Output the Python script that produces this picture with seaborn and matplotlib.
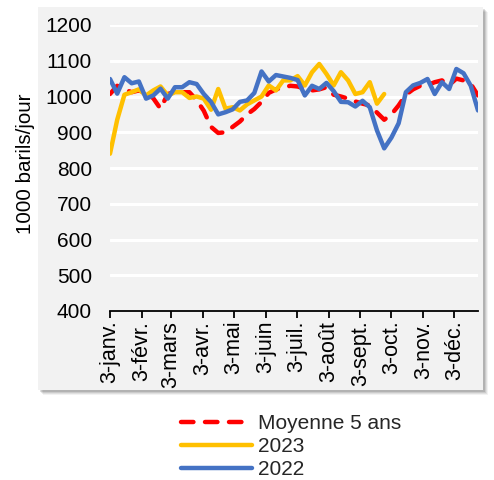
import numpy as np
import pandas as pd
import matplotlib
matplotlib.use("Agg")
import matplotlib.pyplot as plt
import matplotlib.dates as mdates
from matplotlib.patches import Rectangle
import seaborn as sns

# ---- data ----
start_date = "2022-01-03"
n_weeks = 52
moyenne_5_ans = [1007, 1030, 1020, 1012, 1017, 1010, 995, 966, 1007, 1012,
                 1012, 1012, 990, 960, 915, 898, 900, 915, 930, 950,
                 965, 985, 1010, 1020, 1025, 1030, 1028, 1022, 1017, 1020,
                 1026, 1005, 1000, 994, 986, 980, 975, 955, 935, 950,
                 975, 1005, 1020, 1030, 1032, 1040, 1045, 1032, 1050, 1045,
                 1035, 1003]
y2023 = [840, 935, 1005, 1012, 1020, 1003, 1017, 1028, 1003, 1012,
         1012, 996, 1000, 994, 963, 1021, 966, 970, 961, 978,
         989, 1000, 1031, 1017, 1045, 1045, 1057, 1031, 1068, 1091,
         1063, 1031, 1068, 1045, 1007, 1012, 1040, 980, 1007]
y2022 = [1049, 1008, 1054, 1037, 1042, 994, 1003, 1022, 994, 1026,
         1026, 1040, 1035, 1007, 985, 950, 956, 964, 985, 989,
         1010, 1070, 1042, 1060, 1056, 1052, 1046, 1003, 1030, 1021,
         1038, 1015, 985, 984, 972, 988, 970, 905, 855, 885,
         925, 1012, 1031, 1038, 1049, 1007, 1040, 1021, 1077, 1065,
         1030, 961]
tick_dates = ["2022-01-03", "2022-02-03", "2022-03-03", "2022-04-03", "2022-05-03",
              "2022-06-03", "2022-07-03", "2022-08-03", "2022-09-03", "2022-10-03",
              "2022-11-03", "2022-12-03"]
tick_labels = ["3-janv.", "3-févr.", "3-mars", "3-avr.", "3-mai", "3-juin",
               "3-juil.", "3-août", "3-sept.", "3-oct.", "3-nov.", "3-déc."]
series_names = ["Moyenne 5 ans", "2023", "2022"]
series_colors = ["#FF0000", "#FFC000", "#4472C4"]
y_label = "1000 barils/jour"

dates = pd.date_range(start_date, periods=n_weeks, freq="7D")

sns.set_theme(style="white")
plt.rcParams["font.family"] = ["Liberation Sans", "DejaVu Sans"]
FS = 15

fig = plt.figure(figsize=(4.94, 4.80), dpi=100, facecolor="white")

# gray panel with soft shadow
W, H = 494, 480
px0, py0, px1, py1 = 38, 7, 483, 390
for k, a in enumerate([0.05, 0.07, 0.09, 0.12]):
    off = 5 - k
    fig.patches.append(Rectangle(((px0 + off) / W, 1 - (py1 + off) / H),
                                 (px1 - px0) / W, (py1 - py0) / H,
                                 transform=fig.transFigure, facecolor="black",
                                 alpha=a, edgecolor="none", zorder=-3))
fig.patches.append(Rectangle((px0 / W, 1 - py1 / H), (px1 - px0) / W, (py1 - py0) / H,
                             transform=fig.transFigure, facecolor="#F2F2F2",
                             edgecolor="none", zorder=-2))

ax = fig.add_axes([110 / W, 1 - 311 / H, (478 - 110) / W, (311 - 25) / H])
ax.set_facecolor("none")
ax.patch.set_visible(False)

df = pd.concat([
    pd.DataFrame({"date": dates, "val": moyenne_5_ans, "serie": series_names[0]}),
    pd.DataFrame({"date": dates[:len(y2023)], "val": y2023, "serie": series_names[1]}),
    pd.DataFrame({"date": dates, "val": y2022, "serie": series_names[2]}),
])

for name, col in zip(series_names, series_colors):
    sub = df[df["serie"] == name]
    sns.lineplot(data=sub, x="date", y="val", color=col, lw=3.2, ax=ax,
                 label=name, legend=False)
ax.lines[0].set_dashes((2.8, 2.6))
ax.lines[0].set_dash_capstyle("round")
for ln in ax.lines[1:]:
    ln.set_solid_capstyle("round")
    ln.set_solid_joinstyle("round")

ax.set_ylim(400, 1200)
ax.set_yticks(range(400, 1201, 100))
ax.set_xlim(dates[0], dates[-1])
ax.set_xticks(pd.to_datetime(tick_dates))
ax.set_xticklabels(tick_labels, rotation=90, va="top", ha="center")
ax.grid(axis="y", color="white", lw=2.2)
ax.grid(axis="x", visible=False)
ax.set_axisbelow(True)
for s in ["top", "right", "left"]:
    ax.spines[s].set_visible(False)
ax.spines["bottom"].set_color("black")
ax.spines["bottom"].set_linewidth(1.3)
ax.spines["bottom"].set_zorder(5)
ax.tick_params(axis="x", bottom=True, length=5, width=1.3, color="black",
               direction="out", pad=2, labelsize=15.5, labelcolor="black")
ax.tick_params(axis="y", left=False, length=0, pad=13, labelsize=FS, labelcolor="black")
ax.set_xlabel("")
ax.set_ylabel(y_label, fontsize=14.8, color="black")
ax.yaxis.set_label_coords(-0.204, 0.514)

handles = ax.lines[:3]
leg = fig.legend(handles, series_names, loc="upper left",
                 bbox_to_anchor=(181 / W, 1 - 414 / H), frameon=False,
                 fontsize=FS, handlelength=3.4, handletextpad=0.3,
                 labelspacing=0.2, borderpad=0, borderaxespad=0)

fig.savefig("out.png", dpi=100, facecolor="white")
